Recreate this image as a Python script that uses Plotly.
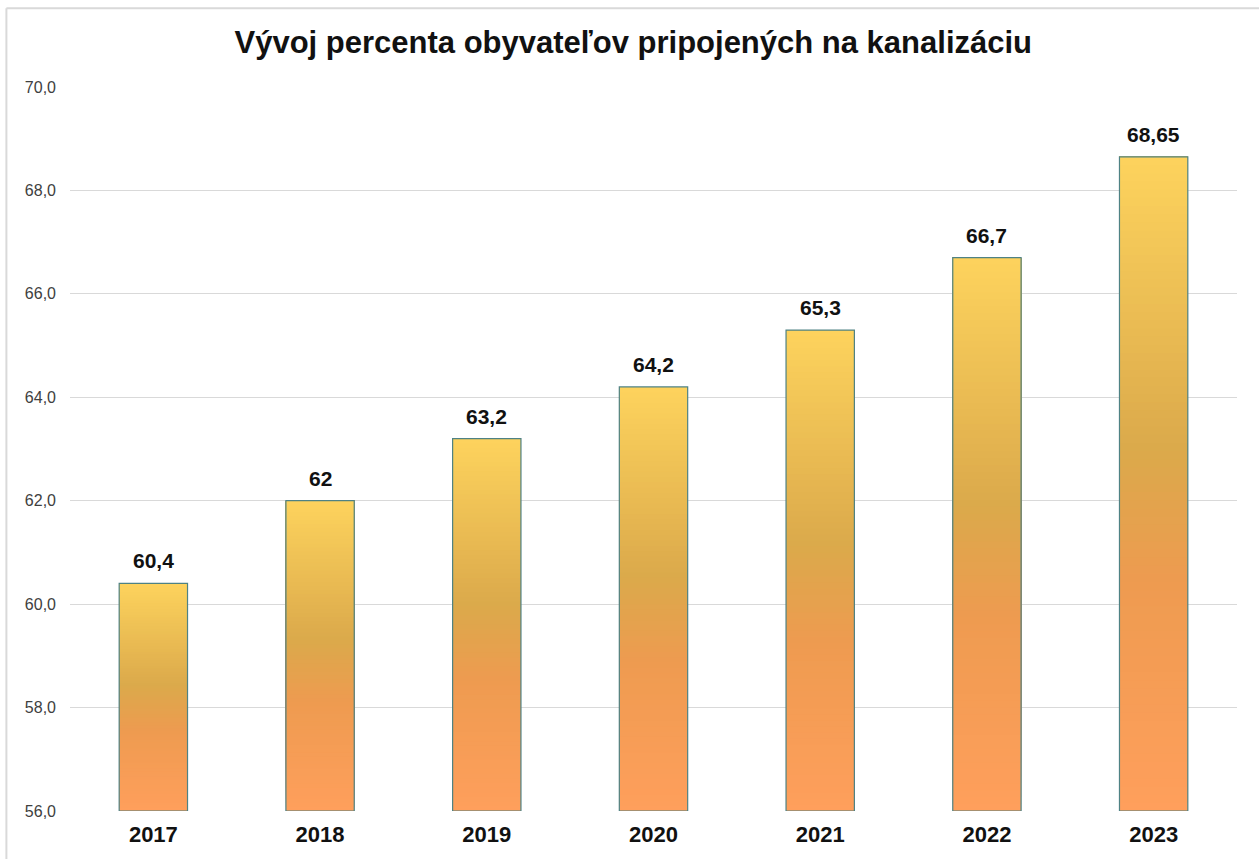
import plotly.graph_objects as go

years = ["2017", "2018", "2019", "2020", "2021", "2022", "2023"]
values = [60.4, 62.0, 63.2, 64.2, 65.3, 66.7, 68.65]
labels = ["60,4", "62", "63,2", "64,2", "65,3", "66,7", "68,65"]
title_text = "Vývoj percenta obyvateľov pripojených na kanalizáciu"

Y_MIN, Y_MAX = 56, 70

# gradient stops: fraction from top of the bar (0) to bottom (1)
stops = [(0.0, (253, 211, 93)), (0.45, (219, 169, 75)), (0.65, (238, 155, 80)), (1.0, (255, 159, 92))]


def color_at(t):
    for (t0, c0), (t1, c1) in zip(stops[:-1], stops[1:]):
        if t0 <= t <= t1:
            f = (t - t0) / (t1 - t0) if t1 > t0 else 0
            c = [round(a + (b - a) * f) for a, b in zip(c0, c1)]
            return f"rgb({c[0]},{c[1]},{c[2]})"
    c = stops[-1][1]
    return f"rgb({c[0]},{c[1]},{c[2]})"


FONT = "Arial, Liberation Sans"
fig = go.Figure()
N = 80
WIDTH = 0.41
for i in range(N):
    frac = i / N  # from bottom
    bases = [Y_MIN + (v - Y_MIN) * frac for v in values]
    heights = [v - b for v, b in zip(values, bases)]
    fig.add_trace(go.Bar(
        x=years, y=heights, base=bases, width=WIDTH,
        marker=dict(color=color_at(1 - (i + 0.5) / N), line=dict(width=0)),
        hoverinfo="skip", showlegend=False,
    ))

# outline
fig.add_trace(go.Bar(
    x=years, y=[v - Y_MIN for v in values], base=[Y_MIN] * len(values), width=WIDTH,
    marker=dict(color="rgba(0,0,0,0)", line=dict(color="#4F8284", width=1.2)),
    hoverinfo="skip", showlegend=False,
))

annotations = [
    dict(x=idx, y=v, xref="x", yref="y", text=lab, showarrow=False,
         yanchor="bottom", yshift=9,
         font=dict(family=FONT, size=21, color="#111111", weight="bold"))
    for idx, (v, lab) in enumerate(zip(values, labels))
]

fig.update_layout(
    width=1259, height=859,
    barmode="overlay",
    paper_bgcolor="white", plot_bgcolor="white",
    margin=dict(l=70, r=22, t=87, b=46),
    separators=",.",
    title=dict(
        text=title_text, x=0.503, xanchor="center", y=0.951, yanchor="middle",
        font=dict(family=FONT, size=31, color="#111111", weight="bold"),
    ),
    xaxis=dict(
        type="category", range=[-0.5, len(years) - 0.5],
        showgrid=False, showline=False, ticks="",
        tickfont=dict(family=FONT, size=22, color="#111111", weight="bold"),
        ticklabelstandoff=8,
    ),
    yaxis=dict(
        range=[Y_MIN, Y_MAX], dtick=2, tickformat=".1f",
        showgrid=True, gridcolor="#D9D9D9", gridwidth=1.2, zeroline=False, showline=False,
        tickfont=dict(family=FONT, size=16, color="#404040"),
        ticklabelstandoff=13,
    ),
    annotations=annotations,
    shapes=[
        dict(type="line", xref="paper", yref="paper", x0=-0.0545, x1=1.1, y0=1.1088, y1=1.1088,
             line=dict(color="#D9D9D9", width=2)),
        dict(type="line", xref="paper", yref="paper", x0=-0.0545, x1=-0.0545, y0=-0.2, y1=1.1088,
             line=dict(color="#D9D9D9", width=2)),
    ],
)

fig.write_html("out.html", config={"displayModeBar": False},
               post_script="document.body.style.margin='0';")
